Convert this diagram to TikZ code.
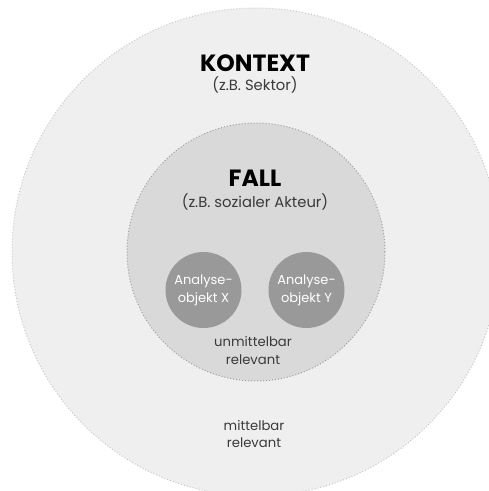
\documentclass[tikz,border=0pt]{standalone}
\usepackage{fontspec}
\setmainfont{Poppins}
\definecolor{outerfill}{HTML}{EFEFEF}
\definecolor{innerfill}{HTML}{D9D9D9}
\definecolor{objfill}{HTML}{999999}
\definecolor{txt}{HTML}{3A3A3A}
\begin{document}
\begin{tikzpicture}[x=1pt,y=-1pt,
  ring/.style={circle, draw, line width=1pt, dash pattern=on 1pt off 2pt, inner sep=0pt},
  obj/.style={circle, fill=objfill, inner sep=0pt, minimum size=76pt, text=white, align=center, font=\fontsize{13}{18}\selectfont},
  head/.style={font=\fontsize{23.5}{26}\bfseries\selectfont, text=black},
  sub/.style={font=\fontsize{14.8}{17}\selectfont, text=txt},
  lbl/.style={font=\fontsize{13.2}{17.5}\selectfont, text=txt, align=center}]
\useasboundingbox (0,0) rectangle (489,491);
\clip (0,0) rectangle (489,491);
\fill[white] (0,0) rectangle (489,491);
\node[ring, draw=black!22, fill=outerfill, minimum size=488pt] (kontext) at (256,252) {};
\node[ring, draw=black!38, fill=innerfill, minimum size=258pt] (fall) at (256,252) {};
\node[obj] (x) at (203.5,290) {Analyse-\\objekt X};
\node[obj] (y) at (306.5,290) {Analyse-\\objekt Y};
\node[head] (kt) at (255,63) {KONTEXT};
\node[sub] (ks) at (255,85) {(z.B. Sektor)};
\node[head] (ft) at (255,178) {FALL};
\node[sub] (fs) at (255,202) {(z.B. sozialer Akteur)};
\node[lbl] (u) at (253,350.5) {unmittelbar\\relevant};
\node[lbl] (m) at (254,434) {mittelbar\\relevant};
\end{tikzpicture}
\end{document}
